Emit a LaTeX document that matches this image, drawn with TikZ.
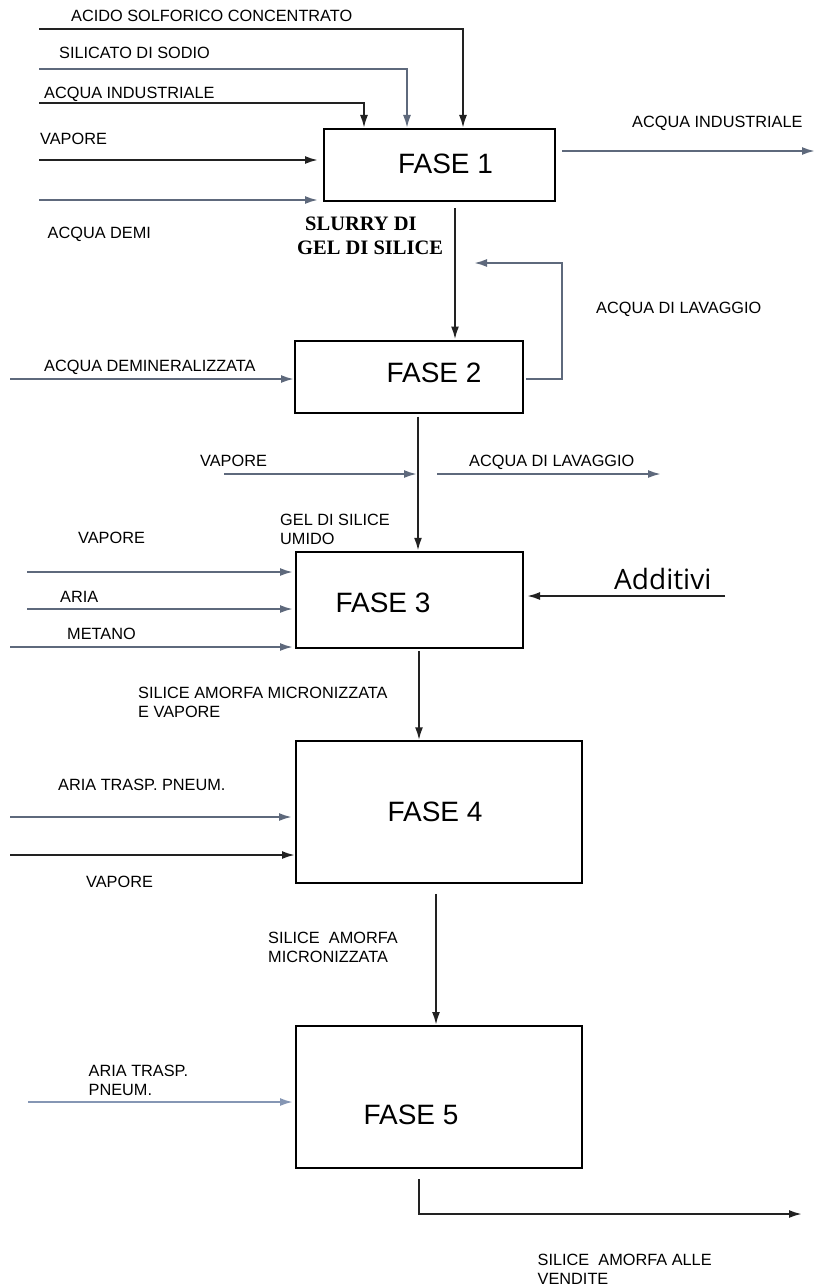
\documentclass[tikz,border=0pt]{standalone}
\usepackage{fontspec}
\setmainfont{Liberation Sans}
\newfontfamily\slurryfont{Liberation Serif}
\newfontfamily\addfont{Open Sans}
\usetikzlibrary{arrows.meta}
\definecolor{lk}{HTML}{222222}
\definecolor{lb}{HTML}{5E697C}
\definecolor{lc}{HTML}{8596B4}
\begin{document}
\begin{tikzpicture}[x=1pt,y=-1pt,
  box/.style={draw=black,line width=2pt,rectangle,inner sep=0pt},
  fase/.style={font=\fontsize{28}{32}\selectfont,inner sep=0pt,anchor=center},
  lbl/.style={font=\fontsize{16.3}{19}\selectfont,inner sep=0pt,anchor=base west},
  mlbl/.style={font=\fontsize{16.3}{19}\selectfont,inner sep=0pt,anchor=north west,align=left},
  flow/.style={line width=2.1pt,draw=lk,-{Latex[length=13pt,width=8pt]}},
  flowb/.style={flow,draw=lb},
  flowc/.style={flow,draw=lc}]
\useasboundingbox[fill=white] (0,0) rectangle (816,1287);

% boxes
\node[box,minimum width=231pt,minimum height=72pt] (f1) at (439.5,165) {};
\node[box,minimum width=228pt,minimum height=72pt] (f2) at (409,376.5) {};
\node[box,minimum width=227pt,minimum height=96.5pt] (f3) at (409.5,600) {};
\node[box,minimum width=286pt,minimum height=141.5pt] (f4) at (439,812) {};
\node[box,minimum width=286pt,minimum height=142pt] (f5) at (439,1097) {};

\node[fase] (t1) at (445.5,164) {FASE 1};
\node[fase] (t2) at (434,373) {FASE 2};
\node[fase] (t3) at (383,603) {FASE 3};
\node[fase] (t4) at (435,812) {FASE 4};
\node[fase] (t5) at (411,1115) {FASE 5};

% free ends
\coordinate (a1) at (39,29);
\coordinate (a2) at (39,69);
\coordinate (a3) at (39,103);
\coordinate (a4) at (39,160);
\coordinate (a5) at (39,200);
\coordinate (o1) at (815,151);
\coordinate (r1) at (474,263);
\coordinate (a6) at (10,379);
\coordinate (j1) at (418,474);
\coordinate (a7) at (224,474);
\coordinate (o2s) at (437,474);
\coordinate (o2) at (661,474);
\coordinate (a8) at (27,572);
\coordinate (a9) at (27,609);
\coordinate (a10) at (10,647);
\coordinate (a11) at (725,596);
\coordinate (a12) at (10,817);
\coordinate (a13) at (10,855);
\coordinate (a14) at (28,1102);
\coordinate (o3) at (802,1214);

% connectors FASE 1
\draw[flow] (a1) -| (463,0 |- f1.north);
\draw[flowb] (a2) -| (407,0 |- f1.north);
\draw[flow] (a3) -| (364,0 |- f1.north);
\draw[flow,shorten >=5pt] (a4) -- (a4 -| f1.west);
\draw[flowb,shorten >=5pt] (a5) -- (a5 -| f1.west);
\draw[flowb,shorten <=6pt] (f1.east |- o1) -- (o1);
\draw[flow,shorten <=6pt] (455,0 |- f1.south) -- (455,0 |- f2.north);
% FASE 2
\draw[flowb,shorten <=2pt] (f2.east |- a6) -- (562,379) -- (562,263) -- (r1);
\draw[flowb] (a6) -- (a6 -| f2.west);
\draw[flow,shorten <=3pt] (418,0 |- f2.south) -- (418,0 |- f3.north);
\draw[flowb,shorten >=1pt] (a7) -- (j1);
\draw[flowb] (o2s) -- (o2);
% FASE 3
\draw[flowb,shorten >=2pt] (a8) -- (a8 -| f3.west);
\draw[flowb,shorten >=2pt] (a9) -- (a9 -| f3.west);
\draw[flowb,shorten >=2pt] (a10) -- (a10 -| f3.west);
\draw[flow,shorten >=3pt] (a11) -- (a11 -| f3.east);
\draw[flow,shorten <=2pt] (419,0 |- f3.south) -- (419,0 |- f4.north);
% FASE 4
\draw[flowb,shorten >=3pt] (a12) -- (a12 -| f4.west);
\draw[flow] (a13) -- (a13 -| f4.west);
\draw[flow,shorten <=10pt] (436,0 |- f4.south) -- (436,0 |- f5.north);
% FASE 5
\draw[flowc,shorten >=2pt] (a14) -- (a14 -| f5.west);
\draw[flow,shorten <=10pt] (419,0 |- f5.south) |- (o3);

% labels
\node[lbl] (l1) at (71,22) {ACIDO SOLFORICO CONCENTRATO};
\node[lbl] (l2) at (59,59) {SILICATO DI SODIO};
\node[lbl] (l3) at (44,99) {ACQUA INDUSTRIALE};
\node[lbl] (l4) at (40,144) {VAPORE};
\node[lbl] (l5) at (47.5,238) {ACQUA DEMI};
\node[lbl] (l6) at (632,128) {ACQUA INDUSTRIALE};
\node[inner sep=0pt,anchor=north west,align=left,font=\slurryfont\bfseries\fontsize{20.5}{24}\selectfont] (l7) at (297,217) {\hspace*{8pt}SLURRY DI\\GEL DI SILICE};
\node[lbl] (l8) at (596,313) {ACQUA DI LAVAGGIO};
\node[lbl] (l9) at (44,371) {ACQUA DEMINERALIZZATA};
\node[lbl] (l10) at (200,466) {VAPORE};
\node[lbl] (l11) at (469,466) {ACQUA DI LAVAGGIO};
\node[mlbl] (l12) at (280,514) {GEL DI SILICE\\UMIDO};
\node[lbl] (l13) at (78,543) {VAPORE};
\node[lbl] (l14) at (60,602) {ARIA};
\node[lbl] (l15) at (67,639) {METANO};
\node[inner sep=0pt,anchor=base west,font=\addfont\fontsize{28}{32}\selectfont] (l16) at (614,589) {Additivi};
\node[mlbl] (l17) at (138,687) {SILICE AMORFA MICRONIZZATA\\E VAPORE};
\node[lbl] (l18) at (58,790) {ARIA TRASP. PNEUM.};
\node[lbl] (l19) at (86,887) {VAPORE};
\node[mlbl] (l20) at (268,932) {SILICE\ \ AMORFA\\MICRONIZZATA};
\node[mlbl] (l21) at (88.5,1065) {ARIA TRASP.\\PNEUM.};
\node[mlbl] (l22) at (537.5,1254) {SILICE\ \ AMORFA ALLE\\VENDITE};
\end{tikzpicture}
\end{document}
